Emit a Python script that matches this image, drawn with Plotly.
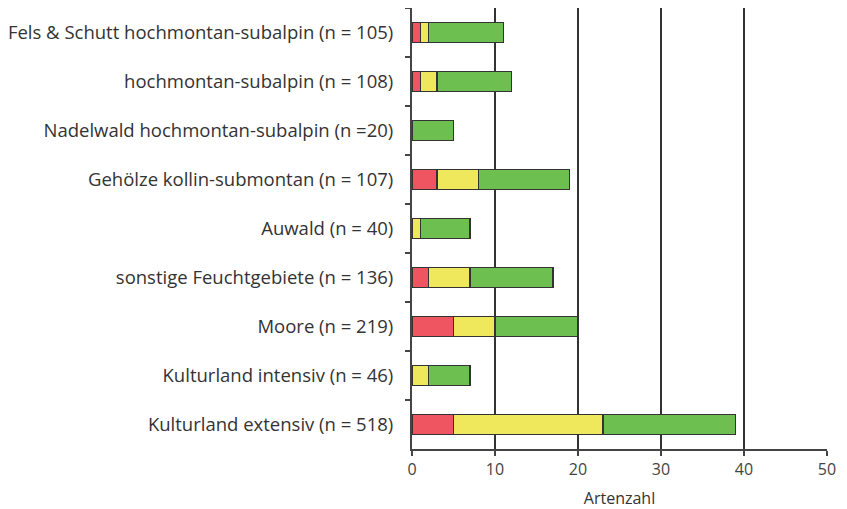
import plotly.graph_objects as go

categories = [
    "Fels & Schutt hochmontan-subalpin (n = 105)",
    "hochmontan-subalpin (n = 108)",
    "Nadelwald hochmontan-subalpin (n =20)",
    "Gehölze kollin-submontan (n = 107)",
    "Auwald (n = 40)",
    "sonstige Feuchtgebiete (n = 136)",
    "Moore (n = 219)",
    "Kulturland intensiv (n = 46)",
    "Kulturland extensiv (n = 518)",
]
red_vals = [1, 1, 0, 3, 0, 2, 5, 0, 5]
yellow_vals = [1, 2, 0, 5, 1, 5, 5, 2, 18]
green_vals = [9, 9, 5, 11, 6, 10, 10, 5, 16]
x_ticks = [0, 10, 20, 30, 40, 50]

colors = ["#EE5560", "#F0E85C", "#6DC04F"]
fig = go.Figure()
for vals, c in zip([red_vals, yellow_vals, green_vals], colors):
    fig.add_trace(go.Bar(
        y=categories, x=[v if v else None for v in vals], orientation="h",
        marker=dict(color=c, line=dict(color="#333333", width=1.5)),
        showlegend=False, hoverinfo="x+y",
    ))

fig.update_layout(
    barmode="stack",
    bargap=0.6,
    width=839, height=501,
    margin=dict(l=404, r=20, t=0, b=60, autoexpand=False),
    plot_bgcolor="white", paper_bgcolor="white",
    font=dict(family="Open Sans", size=17, color="#333333"),
    xaxis=dict(
        range=[0, 50], tickvals=x_ticks, showgrid=True, gridcolor="#333333", gridwidth=1.5,
        zeroline=False, showline=True, linecolor="#444444", linewidth=2,
        ticks="outside", ticklen=5, tickcolor="#444444", tickwidth=2,
        tickfont=dict(size=16, color="#444444"),
        title=dict(text="Artenzahl", font=dict(size=16, color="#333333"), standoff=15),
    ),
    yaxis=dict(
        autorange="reversed", showline=True, linecolor="#444444", linewidth=2,
        ticks="outside", tickson="boundaries", ticklen=5, tickcolor="#444444", tickwidth=2,
        ticklabelstandoff=13,
        tickfont=dict(size=18.5, color="#333333"), showgrid=False,
    ),
)
fig.write_html("out.html")
